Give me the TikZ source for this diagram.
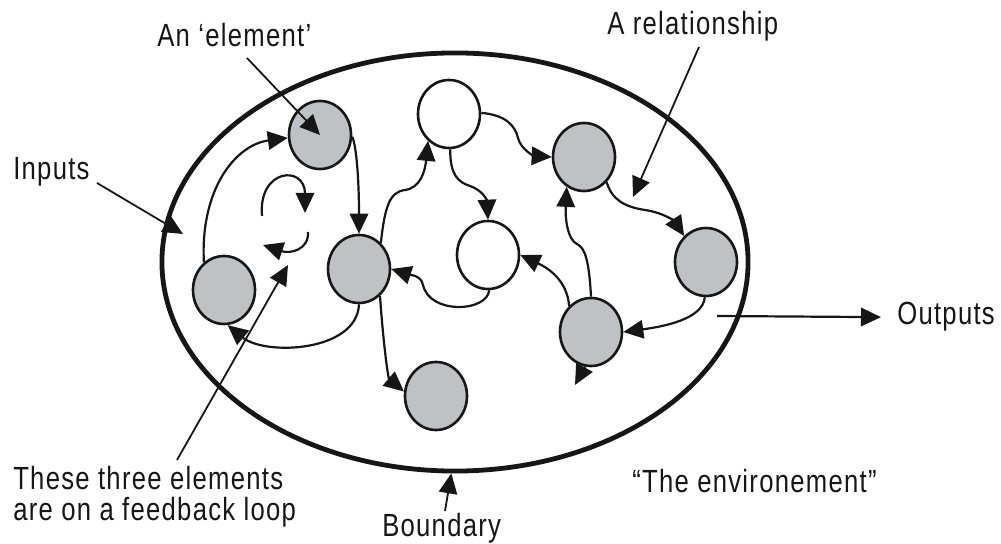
\documentclass[tikz,border=0pt]{standalone}
\usepackage{fontspec}
\setmainfont{Liberation Sans}[FakeStretch=0.8,LetterSpace=4]
\usetikzlibrary{arrows.meta, shapes.geometric}

\definecolor{elemfill}{RGB}{192,193,197}
\definecolor{ink}{RGB}{22,22,22}

\begin{document}
\begin{tikzpicture}[
		x=0.025cm, y=-0.025cm,
		element/.style={
			draw=ink,
			ellipse,
			line width=0.065cm,
			fill=elemfill,
			minimum width=1.55cm,
			minimum height=1.7cm,
			inner sep=0pt
		},
		passive/.style={element, fill=white},
		boundary/.style={
			draw=ink,
			ellipse,
			line width=0.12cm,
			minimum width=14.65cm,
			minimum height=10.45cm,
			inner sep=0pt
		},
		remark/.style={
			font=\fontsize{22.8}{22}\selectfont,
			text=ink,
			inner sep=0pt,
			align=left
		},
		rel/.style={-{Triangle[length=0.5cm, width=0.46cm]}, line width=0.055cm, draw=ink},
		note/.style={-{Triangle[length=0.5cm, width=0.46cm]}, line width=0.045cm, draw=ink}
		]
		
		\useasboundingbox (0,0) rectangle (1001,544);
		
		\node[boundary] (sys) at (455,262) {};
		
		\node[element] (elem) at (320,135) {};
		\node[element] (loopin) at (224,290) {};
		\node[element] (hub) at (359,269) {};
		\node[passive] (whitetop) at (449,114) {};
		\node[passive] (whitemid) at (488,255) {};
		\node[element] (relsrc) at (584,157) {};
		\node[element] (reldst) at (706,262) {};
		\node[element] (lowright) at (591,332) {};
		\node[element] (sink) at (436,396) {};
		
		\node[remark, anchor=base west] (elemtxt) at (157,47) {An ‘element’};
		\node[remark, anchor=base west] (reltxt) at (607,35) {A relationship};
		\node[remark, anchor=base west] (inputtxt) at (13,180) {Inputs};
		\node[remark, anchor=north west] (looptxt) at (13,466)
		{These three elements\\are on a feedback loop};
		\node[remark, anchor=base west] (bndtxt) at (382,536) {Boundary};
		\node[remark, anchor=base west] (outtxt) at (897,325) {Outputs};
		\node[remark, anchor=base west] (envtxt) at (632,492) {“The environement”};
		
		\coordinate (elemfoot) at (247,58);
		\coordinate (inputfoot) at (97,183);
		\coordinate (inputtip) at (183,234);
		\coordinate (relfoot) at (699,47);
		\coordinate (reltip) at (633,197);
		\coordinate (loopfoot) at (177,460);
		\coordinate (looptip) at (288,265);
		\coordinate (bndfoot) at (445,511);
		\coordinate (outfoot) at (717,316);
		\coordinate (stub) at (575,385);
		
		\draw[rel] (loopin.126) .. controls (200,190) and (235,145) .. (elem.185);
		\draw[rel] (elem.-3) .. controls (357,148) and (359,185) .. (hub.north);
		\draw[rel] (hub.south) .. controls (357,352) and (265,356) .. (loopin.-84);
		
		\draw[rel] (262,216) .. controls (258,168) and (305,165) .. (305,213);
		\draw[rel] (308,232) .. controls (309,250) and (290,254) .. (263,245);
		
		\draw[rel] (hub.50) .. controls (385,205) and (390,192) .. (405,190)
		.. controls (420,188) and (425,172) .. (whitetop.-128);
		\draw[rel] (whitetop.2) .. controls (505,115) and (515,125) .. (518,138)
		.. controls (521,150) and (535,156) .. (relsrc.west);
		\draw[rel] (whitetop.-88) .. controls (450,175) and (458,182) .. (470,186)
		.. controls (482,190) and (487,200) .. (whitemid.north);
		\draw[rel] (whitemid.-88) .. controls (487,312) and (430,315) .. (423,285)
		.. controls (421,275) and (410,275) .. (hub.east);
		\draw[rel] (lowright.130) .. controls (567,280) and (548,268) .. (whitemid.east);
		\draw[rel] (lowright.north) .. controls (589,260) and (585,248) .. (577,244)
		.. controls (568,240) and (565,220) .. (relsrc.-120);
		\draw[rel] (relsrc.-48) .. controls (612,200) and (625,207) .. (645,210)
		.. controls (665,213) and (675,222) .. (reldst.130);
		\draw[rel] (reldst.-92) .. controls (703,320) and (660,327) .. (lowright.east);
		\draw[rel] (lowright.-100) -- (stub);
		\draw[rel] (hub.-52) .. controls (383,340) and (388,378) .. (sink.172);
		
		\draw[note] (elemfoot) -- (elem.center);
		\draw[note] (inputfoot) -- (inputtip);
		\draw[note] (relfoot) -- (reltip);
		\draw[note] (loopfoot) -- (looptip);
		\draw[note] (bndfoot) -- (sys.-91);
		\draw[rel] (outfoot) -- ([xshift=-0.4cm]outtxt.west);
		
	\end{tikzpicture}
\end{document}
